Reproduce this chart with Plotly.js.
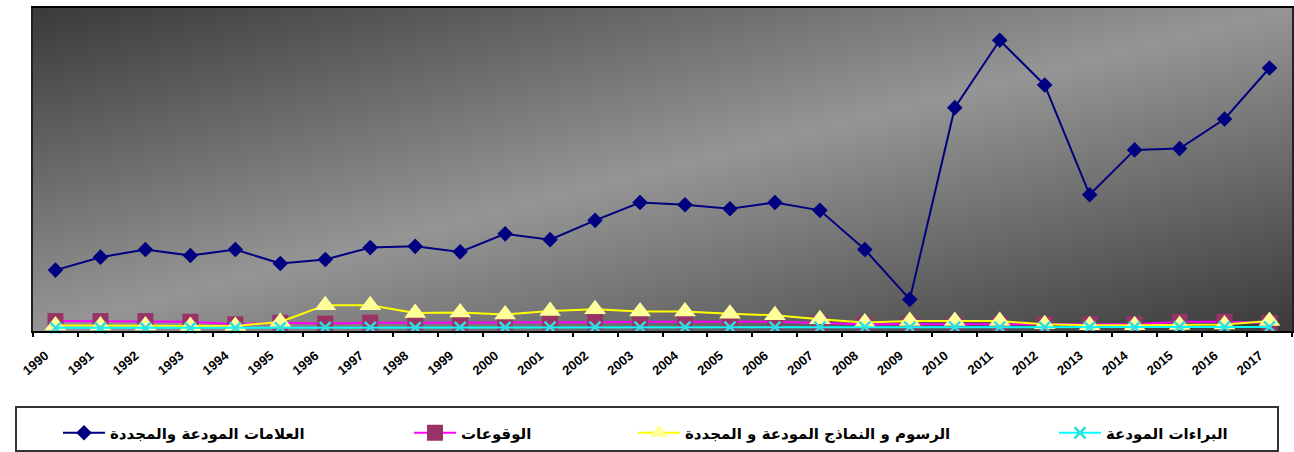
<!DOCTYPE html>
<html>
<head>
<meta charset="utf-8">
<script src="https://cdn.plot.ly/plotly-3.0.1.min.js"></script>
<style>
html,body{margin:0;padding:0;background:#fff;}
#chart{width:1294px;height:452px;}
</style>
</head>
<body>
<div id="chart"></div>
<script>
const years = ["1990","1991","1992","1993","1994","1995","1996","1997","1998","1999",
  "2000","2001","2002","2003","2004","2005","2006","2007","2008","2009",
  "2010","2011","2012","2013","2014","2015","2016","2017"];

const seriesNames = [
  "العلامات المودعة والمجددة",
  "الوقوعات",
  "الرسوم و النماذج المودعة و المجددة",
  "البراءات المودعة"
];

const marks = [2640,3200,3530,3270,3530,2925,3100,3615,3670,3430,
  4210,3960,4795,5570,5475,5300,5570,5230,3530,1370,
  9680,12600,10660,5905,7850,7905,9190,11400];

const occurrences = [430,430,430,400,290,360,320,360,360,360,
  360,380,380,400,400,400,400,345,290,290,
  290,290,290,290,290,400,400,345];

const designs = [240,240,240,220,220,390,1120,1120,780,800,
  720,865,940,840,840,750,680,505,365,430,
  430,430,290,245,245,260,280,430];

const patents = [140,140,140,140,140,150,160,160,150,160,
  160,165,165,165,165,165,165,165,165,170,
  170,170,170,170,170,175,175,175];

const L = 33, R = 2, T = 8, B = 121, W = 1294, H = 452;
const pw = W - L - R, ph = H - T - B;
function px2x(p){ return (p - L) / pw; }
function py2y(p){ return (H - B - p) / ph; }

const legFont = {family: "DejaVu Sans, sans-serif", size: 15, color: "#000", weight: "bold"};

const traces = [
  {x: years, y: marks, name: seriesNames[0], type: "scatter", mode: "lines+markers",
   line: {color: "#000080", width: 2},
   marker: {symbol: "diamond", size: 12, color: "#000080"},
   cliponaxis: false, legend: "legend"},
  {x: years, y: occurrences, name: seriesNames[1], type: "scatter", mode: "lines+markers",
   line: {color: "#FF00FF", width: 2},
   marker: {symbol: "square", size: 16, color: "#993366"},
   cliponaxis: false, legend: "legend2"},
  {x: years, y: designs, name: seriesNames[2], type: "scatter", mode: "lines+markers",
   line: {color: "#FFFF00", width: 2},
   marker: {symbol: "triangle-up", size: 19, color: "#FFFF99"},
   cliponaxis: false, legend: "legend3"},
  {x: years, y: patents, name: seriesNames[3], type: "scatter", mode: "lines+markers",
   line: {color: "#00FFFF", width: 2},
   marker: {symbol: "x-thin", size: 11, color: "#33DDDD", line: {color: "#33DDDD", width: 2.5}},
   cliponaxis: false, legend: "legend4"}
];

const grad = '<svg xmlns="http://www.w3.org/2000/svg" width="100" height="100" viewBox="0 0 100 100" preserveAspectRatio="none">' +
  '<defs><linearGradient id="g" x1="0" y1="0" x2="1" y2="1">' +
  '<stop offset="0" stop-color="#3a3a3a"/>' +
  '<stop offset="0.5" stop-color="#959595"/>' +
  '<stop offset="1" stop-color="#3a3a3a"/>' +
  '</linearGradient></defs><rect x="0" y="0" width="100" height="100" fill="url(#g)"/></svg>';

function leg(px){
  return {x: px2x(px), y: py2y(433), xanchor: "left", yanchor: "middle",
    orientation: "h", bgcolor: "rgba(0,0,0,0)", borderwidth: 0, font: legFont, itemwidth: 42};
}

const layout = {
  width: W, height: H,
  margin: {l: L, r: R, t: T, b: B, pad: 0},
  paper_bgcolor: "#ffffff",
  plot_bgcolor: "rgba(0,0,0,0)",
  showlegend: true,
  images: [{source: "data:image/svg+xml;charset=utf-8," + encodeURIComponent(grad),
    xref: "paper", yref: "paper", x: 0, y: 1, sizex: 1, sizey: 1,
    xanchor: "left", yanchor: "top", sizing: "stretch", layer: "below"}],
  xaxis: {
    type: "category", range: [-0.5, 27.5],
    showgrid: false, zeroline: false,
    showline: true, linecolor: "#000", linewidth: 2, mirror: true,
    ticks: "outside", tickson: "boundaries", ticklen: 4, tickwidth: 2, tickcolor: "#000",
    tickangle: -40, ticklabelstandoff: 10, ticklabelshift: -10,
    tickfont: {family: "Liberation Sans, Arial, sans-serif", size: 13, color: "#000", weight: "bold"}
  },
  yaxis: {
    range: [0, 14000], showgrid: false, zeroline: false,
    showticklabels: false, ticks: "",
    showline: true, linecolor: "#222", linewidth: 2, mirror: true
  },
  legend: leg(58),
  legend2: leg(409),
  legend3: leg(633),
  legend4: leg(1054),
  shapes: [{type: "rect", xref: "paper", yref: "paper",
    x0: px2x(16), x1: px2x(1278), y0: py2y(451), y1: py2y(407),
    line: {color: "#333", width: 2}, fillcolor: "rgba(0,0,0,0)"}],
  hovermode: false
};

Plotly.newPlot("chart", traces, layout, {displayModeBar: false, staticPlot: true});
</script>
</body>
</html>
